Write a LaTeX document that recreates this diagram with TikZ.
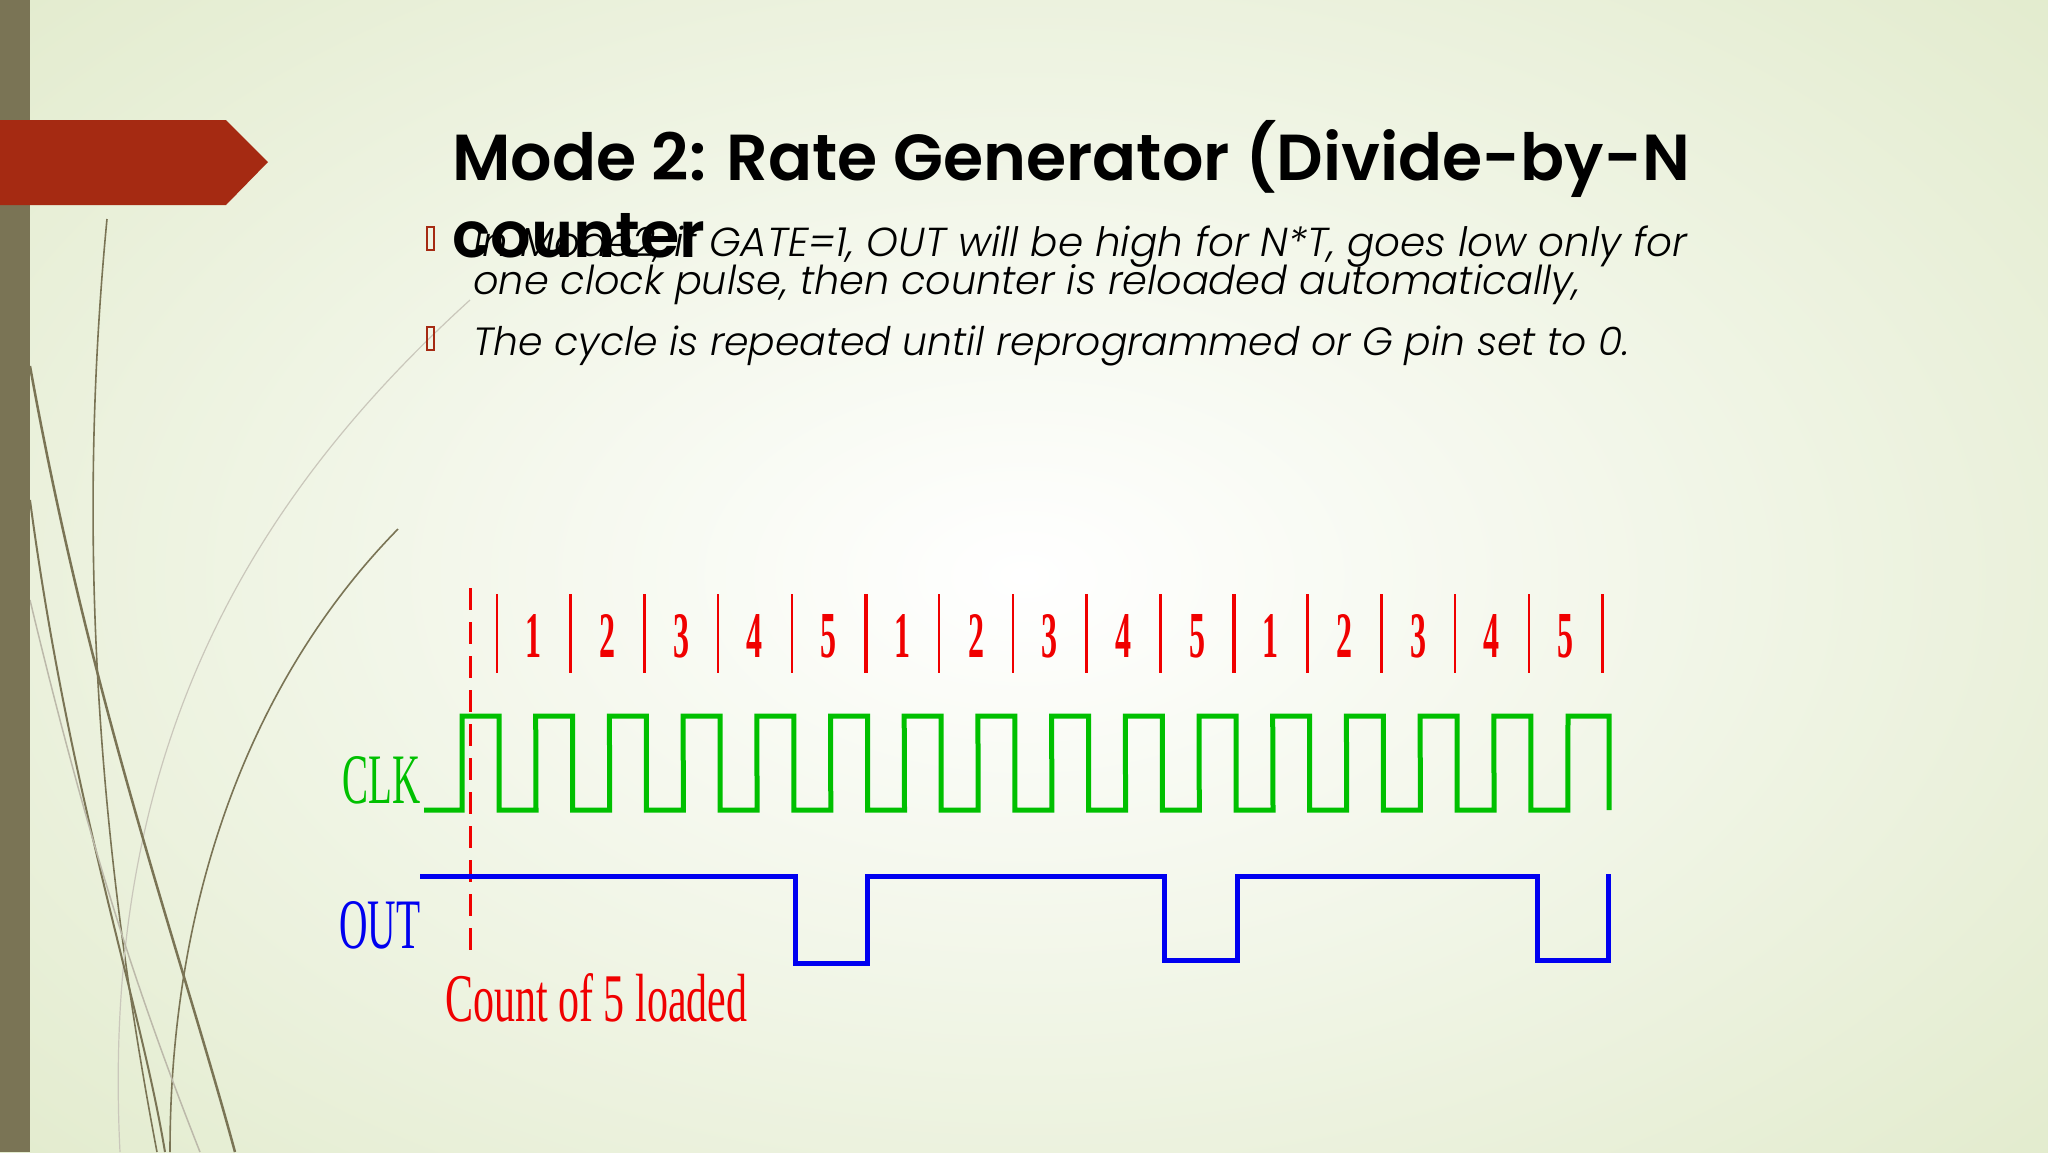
\documentclass[tikz,border=0pt]{standalone}
\usepackage{fontspec}
\setmainfont{Liberation Serif}
\newfontfamily\titlef{Poppins}[UprightFont=* SemiBold]
\newfontfamily\bodyf{Poppins}[UprightFont=* Light Italic]
\definecolor{olive}{HTML}{7A7455}
\definecolor{rust}{HTML}{A52A12}
\definecolor{bgedge}{HTML}{E2EBCD}
\definecolor{clkg}{HTML}{00C000}
\definecolor{outb}{HTML}{0000F0}
\definecolor{cntr}{HTML}{F00000}
\tikzset{
  lbl/.style={inner sep=0pt, anchor=base west},
  clkline/.style={draw=clkg, line width=5pt},
  outline/.style={draw=outb, line width=5pt},
  tick/.style={draw=cntr, line width=2.5pt},
  bigtick/.style={draw=cntr, line width=4pt},
  deco/.style={draw=olive, line width=1.6pt},
}
\begin{document}
\begin{tikzpicture}[x=1pt,y=-1pt]
\useasboundingbox (0,0) rectangle (2048,1152);
\shade[inner color=white, outer color=bgedge] (-400,-300) rectangle (2448,1452);
% decorative curves
\draw[deco] (107,219) .. controls (80,500) and (90,800) .. (157,1152);
\draw[deco] (398,529) .. controls (250,680) and (170,900) .. (170,1152);
\draw[draw=olive!40, line width=1.2pt] (470,300) .. controls (250,500) and (100,750) .. (120,1152);
\draw[deco, line width=2.5pt] (30,366) .. controls (90,700) and (180,950) .. (235,1152);
\draw[deco, line width=2pt] (30,500) .. controls (70,800) and (140,1000) .. (165,1152);
\draw[draw=olive!50, line width=1.5pt] (30,600) .. controls (90,850) and (140,1000) .. (200,1152);
% left bar and arrow
\fill[olive] (0,0) rectangle (30,1152);
\fill[rust] (0,120) -- (226,120) -- (268,162) -- (226,205) -- (0,205) -- cycle;
% title and bullets
\node[lbl] (t1) at (452,180) {\resizebox{1237pt}{!}{\titlef Mode 2: Rate Generator (Divide-by-N}};
\node[lbl] (t2) at (452,257) {\resizebox{253pt}{!}{\titlef counter}};
\node[lbl] (b1) at (473,256) {\resizebox{1214pt}{!}{\bodyf In Mode2, if GATE=1, OUT will be high for N*T, goes low only for}};
\node[lbl] (b1b) at (473,294) {\resizebox{1107pt}{!}{\bodyf one clock pulse, then counter is reloaded automatically,}};
\node[lbl] (b2) at (473,355) {\resizebox{1156pt}{!}{\bodyf The cycle is repeated until reprogrammed or G pin set to 0.}};
\draw[rust, line width=1.5pt] (427,227) rectangle (434,250);
\draw[rust, line width=1.5pt] (427,327) rectangle (434,350);
% timing diagram
\coordinate (d1) at (470,588);
\coordinate (d2) at (470,953);
\draw[draw=cntr, line width=3pt, dash pattern=on 22pt off 12pt] (d1) -- (d2);
\foreach \k in {0,...,15} {
  \pgfmathsetmacro\tx{497+73.7*\k}
  \ifnum\k=5 \draw[bigtick] (\tx,594) -- (\tx,673);
  \else\ifnum\k=10 \draw[bigtick] (\tx,594) -- (\tx,673);
  \else \draw[tick] (\tx,594) -- (\tx,673); \fi\fi
}
\foreach \k [count=\i from 0] in {1,2,3,4,5,1,2,3,4,5,1,2,3,4,5} {
  \pgfmathsetmacro\nx{497+73.7*\i+36.85}
  \node[inner sep=0pt, text=cntr] (n\i) at (\nx,636) {\resizebox{16pt}{43pt}{\bfseries \k}};
}
% CLK waveform
\draw[clkline, line join=miter] (424,810) -- (462,810)
  \foreach \k in {0,...,14} { -- ({462+73.7*\k},716) -- ({499+73.7*\k},716) -- ({499+73.7*\k},810) -- ({536+73.7*\k},810) }
  -- (1568,716) -- (1609,716) -- (1609,810);
% OUT waveform
\draw[outline, line join=miter] (420,876) -- (795,876) -- (795,963) -- (867,963) -- (867,876)
  -- (1164,876) -- (1164,960) -- (1237,960) -- (1237,876) -- (1537,876) -- (1537,960) -- (1608,960) -- (1608,874);
% labels
\node[inner sep=0pt, anchor=base west, text=clkg] (clk) at (342,803) {\resizebox{78pt}{47pt}{CLK}};
\node[inner sep=0pt, anchor=base west, text=outb] (out) at (339,948) {\resizebox{81pt}{47pt}{OUT}};
\node[inner sep=0pt, anchor=base west, text=cntr] (cnt) at (445,1021) {\resizebox{302pt}{48pt}{Count of 5 loaded}};
\end{tikzpicture}
\end{document}
